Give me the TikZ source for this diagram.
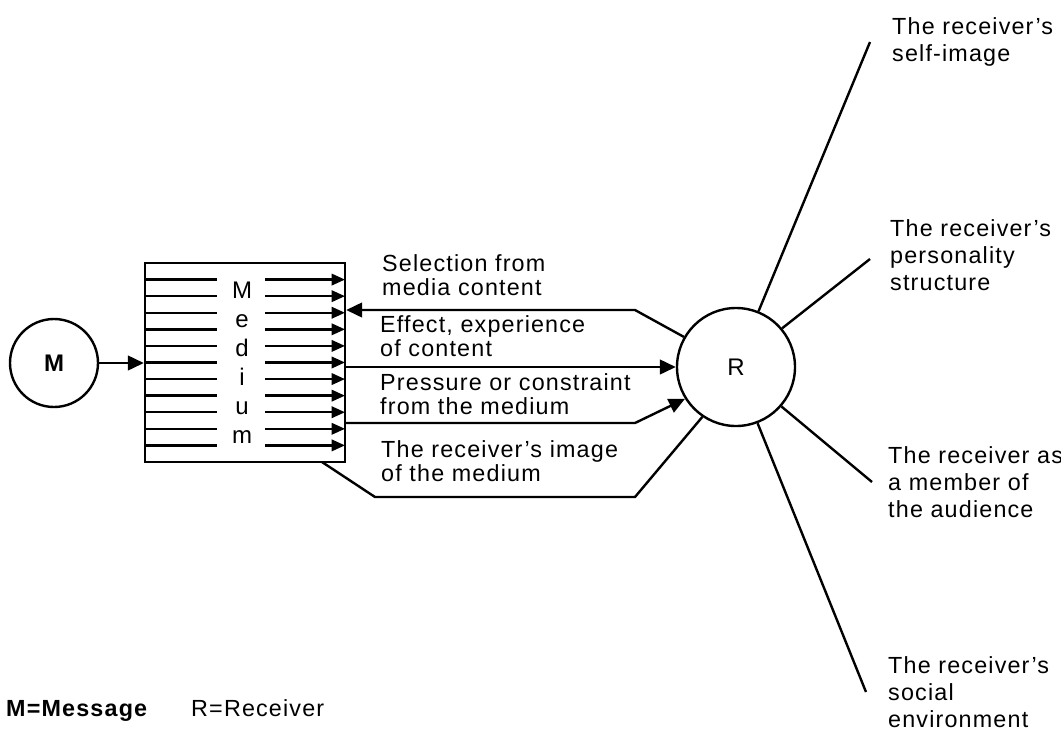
\documentclass[tikz,border=0pt]{standalone}
\usepackage{fontspec}
\setmainfont{Liberation Sans}[LetterSpace=5]
\usetikzlibrary{arrows.meta}
\begin{document}
\begin{tikzpicture}[x=0.75pt,y=-0.75pt,line width=1.8pt,
  every node/.style={inner sep=0pt},
  circ/.style={draw,circle,font=\fontsize{18}{20}\selectfont},
  lab/.style={anchor=base west,font=\fontsize{17.5}{18}\selectfont},
  rlab/.style={anchor=base west,font=\fontsize{17.5}{20.6}\selectfont},
  letter/.style={anchor=base,font=\fontsize{18}{18}\selectfont},
  leg/.style={anchor=base west,font=\fontsize{17.5}{18}\selectfont},
  big/.style={-{Triangle[length=12pt,width=11pt]}},
  bigl/.style={{Triangle[length=12pt,width=11pt]}-},
  small/.style={-{Triangle[length=10pt,width=8.5pt]}},
]
\clip (0,0) rectangle (1061,729);
% message circle and medium box
\node[circ,minimum size=66pt,font=\fontsize{18}{20}\selectfont\bfseries] (M) at (54,363) {M};
\node[draw,minimum width=150pt,minimum height=149.25pt] (box) at (245,362.5) {};
\draw[big] (M) -- (box.west |- M);
\foreach \k in {1,...,11} {
  \pgfmathsetmacro\yy{263+\k*16.58}
  \draw (145,\yy) -- (217,\yy);
  \draw[small] (265,\yy) -- (345,\yy);
}
\foreach \c/\yy [count=\i] in {M/298,e/327,d/356,i/385,u/414,m/443}
  \node[letter] (L\i) at (242,\yy) {\c};
% receiver
\node[circ,minimum size=88.5pt] (R) at (736,367) {R};
% connectors between medium and receiver
\coordinate (s1) at (635,310);
\draw[bigl] (box.east |- s1) -- (s1) -- (R.150);
\draw[big] (box.east |- R) -- (R);
\coordinate (p1) at (635,423);
\draw[big] (box.east |- p1) -- (p1) -- (R.212);
\coordinate (b0) at (322,462);
\coordinate (b1) at (375,497);
\coordinate (b2) at (635,497);
\draw (b0) -- (b1) -- (b2) -- (R.236);
% middle labels
\node[lab] (t1) at (381,271) {\begin{tabular}[t]{@{}l@{}}Selection from\\media content\end{tabular}};
\node[lab] (t2) at (379,332) {\begin{tabular}[t]{@{}l@{}}Effect, experience\\of content\end{tabular}};
\node[lab] (t3) at (379,390) {\begin{tabular}[t]{@{}l@{}}Pressure or constraint\\from the medium\end{tabular}};
\node[lab] (t4) at (380,457) {\begin{tabular}[t]{@{}l@{}}The receiver’s image\\of the medium\end{tabular}};
% spokes from receiver
\coordinate (e1) at (870,42);
\coordinate (e2) at (870,259);
\coordinate (e3) at (872,482);
\coordinate (e4) at (866,692);
\draw (R.68) -- (e1);
\draw (R.40) -- (e2);
\draw (R.-41) -- (e3);
\draw (R.-69) -- (e4);
\node[rlab] (r1) at (891,34) {\begin{tabular}[t]{@{}l@{}}The receiver’s\\self-image\end{tabular}};
\node[rlab] (r2) at (889,236) {\begin{tabular}[t]{@{}l@{}}The receiver’s\\personality\\structure\end{tabular}};
\node[rlab] (r3) at (887,463) {\begin{tabular}[t]{@{}l@{}}The receiver as\\a member of\\the audience\end{tabular}};
\node[rlab] (r4) at (887,673) {\begin{tabular}[t]{@{}l@{}}The receiver’s\\social\\environment\end{tabular}};
% legend
\node[leg,font=\fontsize{17.5}{18}\selectfont\bfseries] (g1) at (5,716) {M=Message};
\node[leg] (g2) at (190,716) {R=Receiver};
\end{tikzpicture}
\end{document}
